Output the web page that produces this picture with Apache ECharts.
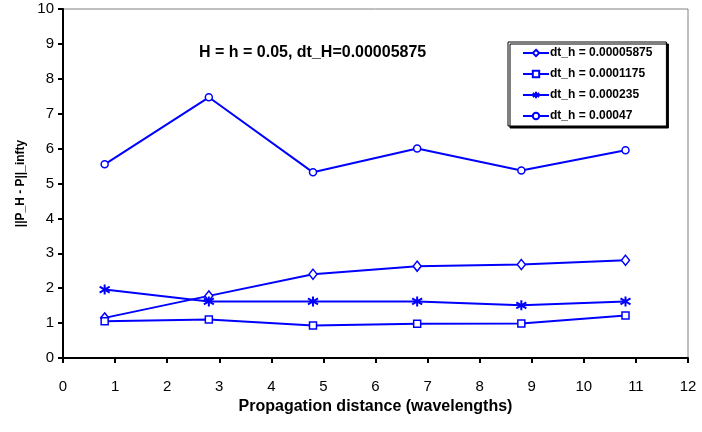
<!DOCTYPE html>
<html>
<head>
<meta charset="utf-8">
<script src="https://cdn.jsdelivr.net/npm/echarts@6/dist/echarts.min.js"></script>
<style>
html,body{margin:0;padding:0;background:#fff;}
#chart{width:702px;height:432px;}
</style>
</head>
<body>
<div id="chart"></div>
<script>
// distances along the guide (wavelengths)
var distance = [0.8, 2.8, 4.8, 6.8, 8.8, 10.8];
var names = ['dt_h = 0.00005875', 'dt_h = 0.0001175', 'dt_h = 0.000235', 'dt_h = 0.00047'];
var err_a = [1.15, 1.78, 2.40, 2.63, 2.68, 2.80];
var err_b = [1.05, 1.10, 0.93, 0.98, 0.99, 1.22];
var err_c = [1.96, 1.62, 1.62, 1.62, 1.51, 1.62];
var err_d = [5.55, 7.47, 5.32, 6.00, 5.37, 5.95];

var star = 'path://M5,0L5,10M0,2L10,8M10,2L0,8';

function pairs(ys) {
    var out = [];
    for (var i = 0; i < distance.length; i++) {
        out.push([distance[i], ys[i]]);
    }
    return out;
}

function mkSeries(name, ys, sym, size, bw) {
    return {
        name: name,
        type: 'line',
        data: pairs(ys),
        symbol: sym,
        symbolSize: size,
        showAllSymbol: true,
        lineStyle: {color: '#0000ff', width: 2},
        itemStyle: {color: '#fff', borderColor: '#0000ff', borderWidth: bw},
        emphasis: {disabled: true},
        animation: false
    };
}

var font = 'Liberation Sans, Arial, sans-serif';

var option = {
    animation: false,
    title: {
        text: 'H = h = 0.05, dt_H=0.00005875',
        left: 199,
        top: 45,
        padding: 0,
        textStyle: {fontFamily: font, fontSize: 16, fontWeight: 'bold', color: '#000'}
    },
    legend: {
        orient: 'vertical',
        left: 508,
        top: 42,
        padding: [5, 14, 4, 14],
        itemGap: 9,
        itemWidth: 26,
        itemHeight: 8,
        backgroundColor: '#fff',
        borderColor: '#000',
        borderWidth: 1,
        shadowColor: '#000',
        shadowBlur: 0,
        shadowOffsetX: 2,
        shadowOffsetY: 2,
        textStyle: {fontFamily: font, fontSize: 12, fontWeight: 'bold', color: '#000', padding: [0, 0, 0, -4]},
        data: names
    },
    grid: {
        left: 63, right: 14, top: 9, bottom: 74,
        outerBoundsMode: 'none',
        show: true,
        borderColor: '#808080',
        borderWidth: 1
    },
    xAxis: {
        type: 'value',
        min: 0, max: 12, interval: 1,
        name: 'Propagation distance (wavelengths)',
        nameLocation: 'middle',
        nameGap: 41,
        nameTextStyle: {fontFamily: font, fontSize: 16, fontWeight: 'bold', color: '#000'},
        axisLine: {lineStyle: {color: '#000', width: 2}},
        axisTick: {show: true, length: 5, lineStyle: {color: '#000', width: 2}},
        axisLabel: {fontFamily: font, fontSize: 15, color: '#000', margin: 21},
        splitLine: {show: false}
    },
    yAxis: {
        type: 'value',
        min: 0, max: 10, interval: 1,
        name: '||P_H - P||_infty',
        nameLocation: 'middle',
        nameGap: 36,
        nameTextStyle: {fontFamily: font, fontSize: 12, fontWeight: 'bold', color: '#000'},
        axisLine: {lineStyle: {color: '#000', width: 2}},
        axisTick: {show: true, length: 5, lineStyle: {color: '#000', width: 2}},
        axisLabel: {fontFamily: font, fontSize: 15, color: '#000', margin: 9},
        splitLine: {show: false}
    },
    series: [
        mkSeries(names[0], err_a, 'diamond', [8, 10], 1.5),
        mkSeries(names[1], err_b, 'rect', [7, 7], 1.5),
        mkSeries(names[2], err_c, star, [10, 10], 2),
        mkSeries(names[3], err_d, 'circle', 7, 1.5)
    ]
};

var myChart = echarts.init(document.getElementById('chart'));
myChart.setOption(option);
</script>
</body>
</html>
